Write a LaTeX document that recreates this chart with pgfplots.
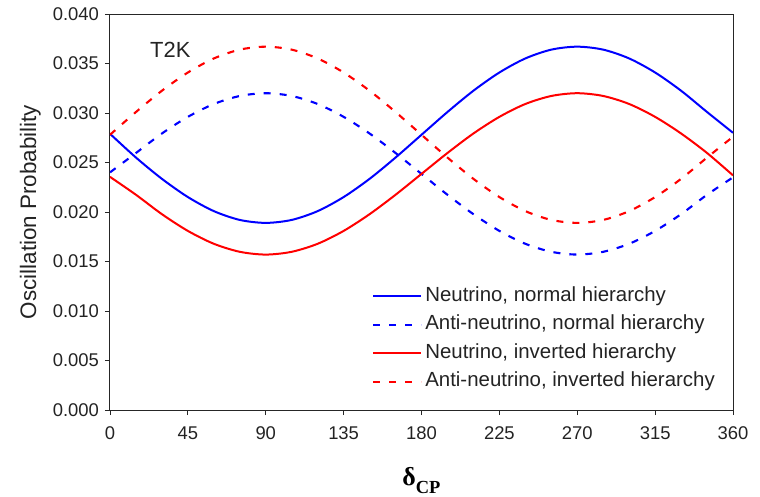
\documentclass[border=0pt]{standalone}
\usepackage{fontspec}
\setmainfont{Liberation Sans}
\newfontfamily\timesfont{Liberation Serif}
\usepackage{pgfplots}
\pgfplotsset{compat=1.18}
\usepackage{pgfplotstable}

\definecolor{nublue}{RGB}{0,0,255}
\definecolor{nured}{RGB}{255,0,0}
\definecolor{txt}{RGB}{35,35,35}

% d: delta_CP; nn: neutrino NH; an: anti-neutrino NH; ni: neutrino IH; ai: anti-neutrino IH
\pgfplotstableread{
d   nn      an      ni      ai
0   0.02790 0.02400 0.02355 0.02780
15  0.02550 0.02596 0.02174 0.03010
30  0.02335 0.02793 0.01978 0.03225
45  0.02151 0.02961 0.01809 0.03409
60  0.02009 0.03091 0.01679 0.03551
75  0.01920 0.03172 0.01598 0.03640
90  0.01890 0.03200 0.01570 0.03670
105 0.01920 0.03172 0.01598 0.03640
120 0.02009 0.03091 0.01679 0.03551
135 0.02151 0.02961 0.01809 0.03409
150 0.02335 0.02793 0.01978 0.03225
165 0.02550 0.02596 0.02174 0.03010
180 0.02780 0.02385 0.02385 0.02780
195 0.03010 0.02174 0.02596 0.02550
210 0.03225 0.01978 0.02793 0.02335
225 0.03409 0.01809 0.02961 0.02151
240 0.03551 0.01679 0.03091 0.02009
255 0.03640 0.01598 0.03172 0.01920
270 0.03670 0.01570 0.03200 0.01890
285 0.03640 0.01598 0.03172 0.01920
300 0.03551 0.01679 0.03091 0.02009
315 0.03409 0.01809 0.02961 0.02151
330 0.03225 0.01978 0.02793 0.02335
345 0.03010 0.02174 0.02596 0.02550
360 0.02800 0.02350 0.02370 0.02760
}\datatable

\begin{document}
\begin{tikzpicture}
\begin{axis}[
  scale only axis,
  width=623bp, height=396bp,
  xmin=0, xmax=360, ymin=0, ymax=0.04,
  xtick={0,45,90,135,180,225,270,315,360},
  ytick={0,0.005,0.01,0.015,0.02,0.025,0.03,0.035,0.04},
  scaled y ticks=false,
  tick align=outside,
  major tick length=5bp,
  tick pos=left,
  tick style={black!85, line width=0.9bp},
  axis line style={black!85, line width=1bp},
  /pgf/number format/assume math mode=true,
  y tick label style={/pgf/number format/fixed, /pgf/number format/fixed zerofill, /pgf/number format/precision=3, xshift=-2.5bp},
  x tick label style={yshift=-8.5bp},
  ticklabel style={font=\fontsize{18.5}{21}\selectfont, text=txt},
  xlabel={{\timesfont\bfseries\fontsize{26}{28}\selectfont δ\raisebox{-0.28em}{\fontsize{18.5}{20}\selectfont CP}}},
  xlabel style={at={(axis description cs:0.5,-0.178)}, anchor=center, inner sep=0pt},
  ylabel={Oscillation Probability},
  ylabel style={at={(axis description cs:-0.128,0.5)}, anchor=center, font=\fontsize{22.5}{25}\selectfont, text=txt, inner sep=0pt},
  legend style={draw=none, fill=none, at={(axis cs:151.4,0.0125)}, anchor=north west,
    inner sep=0pt, font=\fontsize{20.5}{23}\selectfont, text=txt,
    row sep=8.5bp,
    nodes={inner sep=1bp, text height=14bp, text depth=4bp},
    /tikz/every odd column/.append style={column sep=2bp}},
  legend cell align=left,
  legend image code/.code={\draw[#1] (0bp,0.4bp) -- (48bp,0.4bp);},
]
\addplot[nublue, line width=2bp, smooth] table[x=d, y=nn] {\datatable};
\addlegendentry{Neutrino, normal hierarchy}
\addplot[nublue, line width=2.1bp, dash pattern=on 7bp off 9bp, smooth] table[x=d, y=an] {\datatable};
\addlegendentry{Anti-neutrino, normal hierarchy}
\addplot[nured, line width=2bp, smooth] table[x=d, y=ni] {\datatable};
\addlegendentry{Neutrino, inverted hierarchy}
\addplot[nured, line width=2.1bp, dash pattern=on 7bp off 9bp, smooth] table[x=d, y=ai] {\datatable};
\addlegendentry{Anti-neutrino, inverted hierarchy}
\node[anchor=west, inner sep=0pt, font=\fontsize{22}{24}\selectfont, text=txt] at (axis cs:23.1,0.03636) {T2K};
\end{axis}
\pgfresetboundingbox
\path[use as bounding box] ([shift={(-110bp,-87bp)}]current axis.south west) rectangle ++(760bp,497bp);
\end{tikzpicture}
\end{document}
